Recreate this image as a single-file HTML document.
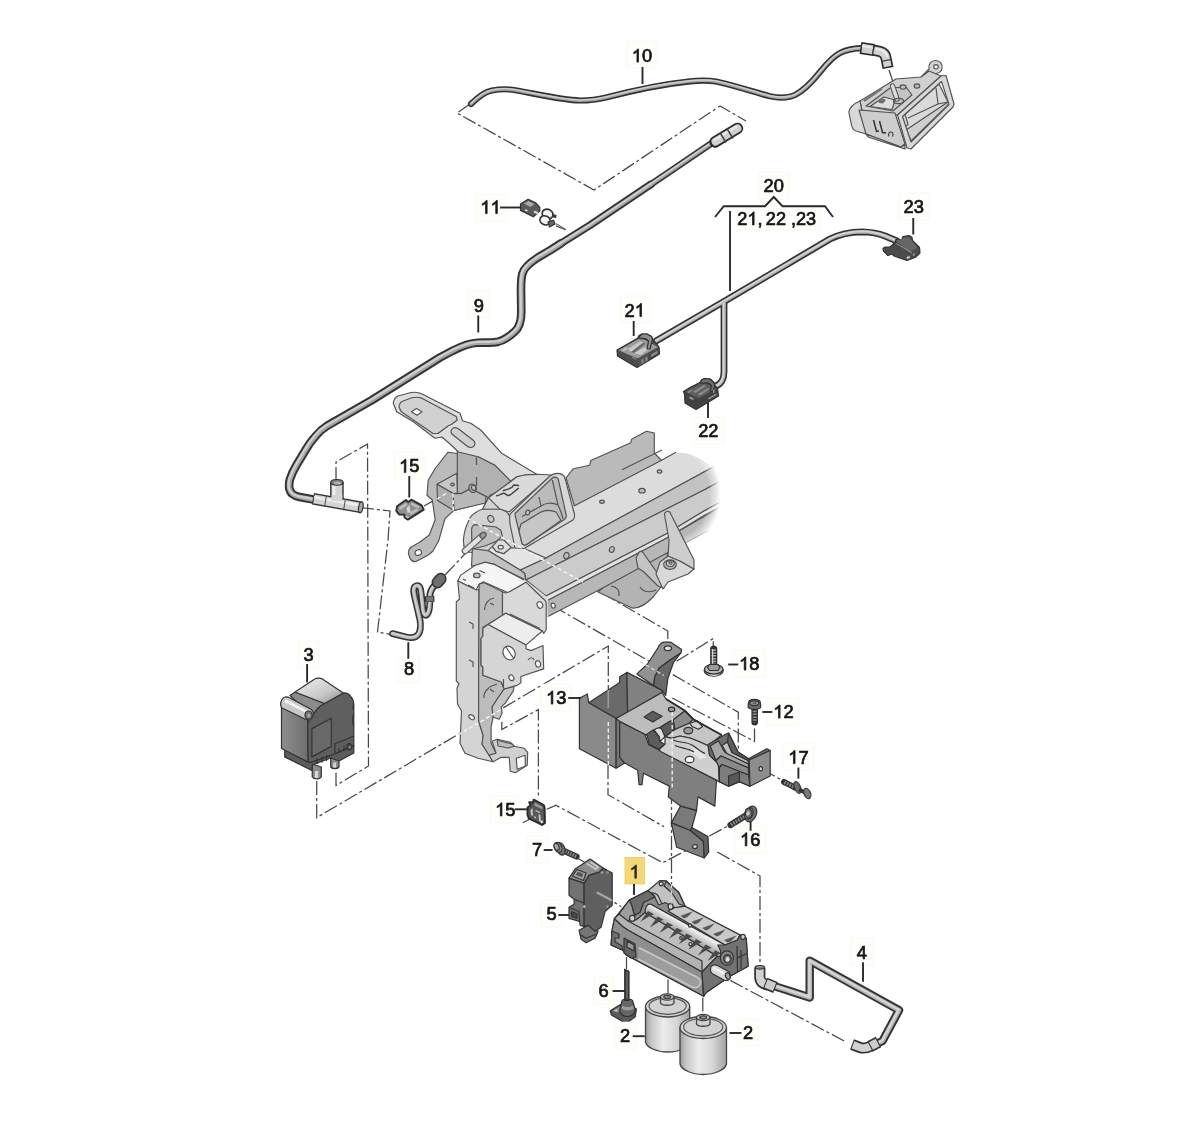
<!DOCTYPE html>
<html><head><meta charset="utf-8"><title>Parts diagram</title>
<style>
html,body{margin:0;padding:0;background:#fff;}
body{width:1200px;height:1146px;overflow:hidden;font-family:"Liberation Sans",sans-serif;}
svg{display:block;}
svg text{font-family:"Liberation Sans",sans-serif;font-size:17.9px;fill:#151515;stroke:#151515;stroke-width:.72px;text-anchor:start;}
.lb{fill:#fefefa;stroke:#f7f6ea;stroke-width:.6;}
.ld{stroke:#2a2a2a;stroke-width:1.9;fill:none;}
.dd{stroke:#484848;stroke-width:1.25;fill:none;stroke-dasharray:14 3 3 3;}
.dw{stroke:#f4f4f4;stroke-width:1.3;fill:none;stroke-dasharray:4 2.5;}
.o{stroke:#525252;stroke-width:1.15;stroke-linejoin:round;}
.od{stroke:#333;stroke-width:1.2;stroke-linejoin:round;}
.n{stroke:none;}
.f{fill:none;}
</style></head><body>
<svg width="1200" height="1146" viewBox="0 0 1200 1146">
<defs>
<filter id="soft" x="-5%" y="-5%" width="110%" height="110%"><feGaussianBlur stdDeviation="0.55"/></filter>
<linearGradient id="cyl" x1="0" x2="1" y1="0" y2="0">
 <stop offset="0" stop-color="#9a9a9a"/><stop offset=".12" stop-color="#c4c4c4"/><stop offset=".4" stop-color="#ececec"/><stop offset=".7" stop-color="#d6d6d6"/><stop offset="1" stop-color="#a2a2a2"/>
</linearGradient>
<linearGradient id="p3l" x1="0" x2="1" y1="0" y2="0">
 <stop offset="0" stop-color="#8d8d8d"/><stop offset="1" stop-color="#6f6f6f"/>
</linearGradient>
<linearGradient id="p3t" x1="0" x2="1" y1="0" y2="1">
 <stop offset="0" stop-color="#f0f0f0"/><stop offset=".6" stop-color="#c8c8c8"/><stop offset="1" stop-color="#8c8c8c"/>
</linearGradient>
<radialGradient id="fade" gradientUnits="userSpaceOnUse" cx="640" cy="505" r="82" gradientTransform="translate(640 505) scale(1 .95) translate(-640 -505)">
 <stop offset="0" stop-color="#fff" stop-opacity="0"/><stop offset=".72" stop-color="#fff" stop-opacity="0"/><stop offset="1" stop-color="#fff" stop-opacity="1"/>
</radialGradient>
<linearGradient id="roll" gradientUnits="userSpaceOnUse" x1="690" y1="922" x2="683" y2="934">
 <stop offset="0" stop-color="#bdbdbd"/><stop offset=".35" stop-color="#f0f0f0"/><stop offset="1" stop-color="#a8a8a8"/>
</linearGradient>

</defs>
<rect width="1200" height="1146" fill="#fff"/>
<g filter="url(#soft)">
<!-- 00_dash.svg -->
<g class="dd">
<path d="M470,104 L457,113 L594,190 L720,106 L746,121"/>
<path d="M556,226 L566,230"/>
<path d="M336,481 L336,462 L367.5,444 L368.5,766 L336,785.5 L336,770"/>
<path d="M360,507.5 L390,511 L388,540 L377.5,632 L391,634.5"/>
<path d="M445,575 L480,538"/>
<path d="M424,506 L447,493"/>
<path d="M316.7,781 L316.7,817.6 L608.3,646 L608.3,708"/>
<path d="M501.8,722 L501.8,729.5 L538.4,709.6 L538.4,798.7"/>
<path d="M553,606 L738.3,712.2 L738.3,751"/>
<path d="M583,582 L667.8,631 L667.8,647.2"/>
<path d="M676.5,661.3 L713.3,638.5 L713.3,647"/>
<path d="M672.2,698 L754.5,741.4 L754.5,727"/>
<path d="M546.7,809.3 L556,805.3 L662.7,862.7 L693.3,846.7"/>
<path d="M709.3,836 L729.3,825.3"/>
<path d="M522.7,822.7 L530.7,818.7"/>
<path d="M608,765 L608,794.7 L664,826.7"/>
<path d="M671.5,790 L671.5,904"/>
<path d="M717.3,852 L760,876 L760,964"/>
<path d="M576,857.3 L585.3,862.7"/>
<path d="M600,893.3 L621.3,906.7"/>
<path d="M730.3,980.4 L844.2,1041"/>
<path d="M668,979.5 L668,996"/>
<path d="M702.8,997.5 L702.8,1014"/>
<path d="M626.5,957 L626.5,969"/>
<path d="M889,70 L894,85"/>
<path d="M762.5,769.5 L782.5,780.5"/>
</g>

<!-- 10_hoses.svg -->
<defs>
<path id="h10" d="M471,104 C478,97 484,92 492,90.5 C500,89 508,89 514,90 C530,92.5 560,100 580,100.5 C590,100.5 598,99.5 606,97.5 C625,92.5 660,84.5 690,81.3 C700,80.3 708,80.3 716,81.5 C735,85.5 755,92.5 770,96.3 C780,98.5 788,98 795,95 C805,90 812,82 820,72 C828,62 834,56 840,53 C846,50 852,48.6 861,48.2"/>
<path id="h9a" d="M712,143 L650,185"/>
<path id="h9b" d="M651,184.3 L590,225.3 L560,244"/>
<path id="h9" d="M561,243.4 L550,250.4 L538,257.5 C531,262 524,268 522.5,273.3 C521,278 521,283 521,290 L521.3,312 C521.3,322 519,328 514.6,331.7 C509,337 503,340.5 498.3,341.7 C492,343 485,342.5 477.5,342.7 C470,343 462,346 452.5,350.8 L440,357.5 L372.1,400 L326.7,426.1 C322,429 318,433 315.4,436.3 C312,440 309,444 306.3,448.8 L296.1,465.8 C293,471 291,476 289.9,479.4 C289,483 289,486 289.3,488.5 C290,491 291,493 292.7,494.2 C295,496 297,496.5 299.5,497 L312,499.3"/>
<path id="w1" d="M656,341 L730,298 L830,239 C840,234 850,232 862,231.8 C872,232 880,234 885,236 L897,241"/>
<path id="w2" d="M724,303 L724,372 C724,380 721,384 716,386"/>
<path id="h4" d="M774,986 L809.7,997.5 L809.7,960.7 L899,1010.2 L882.5,1041 L872,1046"/>
<path id="h8" d="M392.5,633.6 L406,637 C412,638.5 416,638 418.5,634 C421,630 421,626 420,620 L414.5,596 C413,590 413.5,586.5 416.5,585.7 C419.5,585 420.5,588 421,592 L423,610 C424,616 426,616.5 428,613 C430,609 430,604 429.8,598 C429.5,592 431,589 435,585 L440,579.5"/>
</defs>
<g fill="none" stroke-linecap="round" stroke-linejoin="round">
<use href="#h10" stroke="#333" stroke-width="6.2"/><use href="#h10" stroke="#a4a4a4" stroke-width="3"/><use href="#h10" stroke="#cdcdcd" stroke-width="1.4" transform="translate(0 -.6)"/>
<use href="#h9a" stroke="#333" stroke-width="6.9"/><use href="#h9b" stroke="#333" stroke-width="7.8"/><use href="#h9" stroke="#333" stroke-width="8.6"/><use href="#h9a" stroke="#a4a4a4" stroke-width="3.5"/><use href="#h9b" stroke="#a4a4a4" stroke-width="4.2"/><use href="#h9" stroke="#a4a4a4" stroke-width="4.8"/><use href="#h9a" stroke="#cfcfcf" stroke-width="1.6" transform="translate(-.4 -.6)"/><use href="#h9b" stroke="#cfcfcf" stroke-width="1.9" transform="translate(-.4 -.6)"/><use href="#h9" stroke="#cfcfcf" stroke-width="2.2" transform="translate(-.5 -.7)"/>
<use href="#w1" stroke="#333" stroke-width="6.8"/><use href="#w2" stroke="#333" stroke-width="6.8"/>
<use href="#w1" stroke="#b4b4b4" stroke-width="3.6"/><use href="#w2" stroke="#b4b4b4" stroke-width="3.6"/><use href="#w1" stroke="#d4d4d4" stroke-width="1.6" transform="translate(-.3 -.5)"/><use href="#w2" stroke="#d4d4d4" stroke-width="1.6" transform="translate(-.5 0)"/>
<use href="#h4" stroke="#333" stroke-width="8.4"/><use href="#h4" stroke="#b4b4b4" stroke-width="4.6"/><use href="#h4" stroke="#d6d6d6" stroke-width="2.2" transform="translate(-.3 -.6)"/>
<use href="#h8" stroke="#333" stroke-width="6.8"/><use href="#h8" stroke="#b0b0b0" stroke-width="3.8"/><use href="#h8" stroke="#d2d2d2" stroke-width="1.8" transform="translate(-.4 -.4)"/>
</g>

<!-- 20_housing.svg -->
<g>
<!-- loop -->
<path class="o" fill="#d2d2d2" d="M921,77 L929,69 C928,64 931,60.5 935.5,60.5 C940,60.5 943,64 942,68.5 C941.5,71.5 939,73 936,73.5 L932,80 Z"/>
<ellipse class="o" cx="936" cy="66.8" rx="2.2" ry="2.2" fill="#fff"/>
<!-- body top -->
<path class="o" fill="#d0d0d0" d="M860,101 L896,79 L921,77 L929,71 L941,76 L897.5,115 L862,110 Z"/>
<!-- left end cap -->
<path class="o" fill="#d9d9d9" d="M848.8,112 C849.5,108 853,104 860,101 L866,134 L856,131 C853,130 852,128 851.5,125 Z"/>
<!-- front face -->
<path class="o" fill="#cdcdcd" d="M859,110 L895,113 L905,144 L901,147 L866,134 Z"/>
<path class="o" fill="#bdbdbd" d="M866,134 L901,147 L905,144 L905,149 L868,137 Z"/>
<!-- top recess -->
<path class="o" fill="#c4c4c4" d="M866,106 L890,88 L906,87 L912,95 L893,111 Z"/>
<path class="o" fill="#dedede" d="M870,106.5 L884,97 L895,100 L892,109.5 Z"/>
<path class="n" fill="#6f6f6f" d="M878,100.5 L882,98 L886,100 L883,103.5 L879,103 Z"/>
<path d="M864,101 L882,88.5" stroke="#777" stroke-width="2.2"/>
<ellipse class="o" cx="903" cy="87" rx="3" ry="2.2" fill="#bdbdbd"/><ellipse class="o" cx="917" cy="86" rx="2.8" ry="2.1" fill="#bdbdbd"/>
<!-- stem -->
<path d="M892.5,86 L897,99" stroke="#555" stroke-width="5.4" stroke-linecap="round"/>
<path d="M892.5,86 L897,99" stroke="#dcdcdc" stroke-width="3.4" stroke-linecap="round"/>
<ellipse class="o" cx="898.5" cy="101" rx="5" ry="2.6" fill="none"/>
<!-- frame inside -->
<path class="o" fill="#dadada" d="M902,117 L939,84 L949,104 L911,141 Z"/>
<path class="o" fill="#cfcfcf" d="M906,130 L948,102 L949,104 L911,141 Z"/>
<path class="o f" d="M908,118 L938,104 L948,102 M938,104 L936,88"/>
<path class="o" fill="#d6d6d6" d="M901,114 C902,113 904,113 905,114.5 L908,124 C907.5,126 905,126.5 904,125 Z"/>
<!-- frame ring -->
<path class="o" fill="#d8d8d8" fill-rule="evenodd" d="M897.5,115 L941,76 L946,75.5 L954,104 L953,107 L911,149 L907,148 Z M902.5,116.5 L911,142 L949,104.5 L941.5,81.5 Z"/>
<!-- LL text -->
<path d="M873.5,120 L876.5,131.5 L879,131 M879.5,121 L882.5,132.5 L886,133" stroke="#333" stroke-width="1.5" fill="none"/>
<path d="M889,136.5 C888,133.5 889,132 891,132 C893,132 893.5,134 892.5,136.5" stroke="#333" stroke-width="1.1" fill="none"/>
<g transform="translate(0 1)">
<!-- elbow connector on hose 10 -->
<path d="M860.5,47 L874,49" stroke="#2e2e2e" stroke-width="12.2"/>
<path d="M862,47.2 L872.7,48.8" stroke="#cfcfcf" stroke-width="8.8"/>
<path d="M862,45 L872.7,46.6" stroke="#e6e6e6" stroke-width="2.4"/>
<path d="M873,49 L880,50.5 C884,51.5 885.5,54 886,57 L888,67" stroke="#2e2e2e" stroke-width="11.2" fill="none"/>
<path d="M874,49.2 L880,50.5 C884,51.5 885.5,54 886,57 L887.7,65.6" stroke="#d3d3d3" stroke-width="7.8" fill="none"/>
<path d="M875,47.6 L881,49 C885.5,50.3 887,53 887.6,56.5" stroke="#ececec" stroke-width="2" fill="none"/>
<path d="M881.3,60.4 L891.7,58.4" stroke="#444" stroke-width="1.3"/>
</g>
<!-- connector on hose 9 end -->
<path d="M715,142 L737.5,128.4" stroke="#2e2e2e" stroke-width="11.4" stroke-linecap="round"/>
<path d="M715.5,141.7 L737.5,128.4" stroke="#d0d0d0" stroke-width="7.8" stroke-linecap="round"/>
<path d="M714.5,139.8 L736.5,126.5" stroke="#e8e8e8" stroke-width="2.2" stroke-linecap="round"/>
<path d="M720.5,133.5 L726,142.5 M727.5,129.5 L733,138.5" stroke="#444" stroke-width="1.5"/>
</g>

<!-- 30_bracket.svg -->
<defs>
<mask id="beamfade" maskUnits="userSpaceOnUse" x="380" y="380" width="400" height="420">
 <ellipse cx="672" cy="494" rx="49" ry="57" fill="url(#fadem)"/>
 <rect x="380" y="380" width="292" height="420" fill="#fff"/>
</mask>
<radialGradient id="fadem">
 <stop offset="0" stop-color="#fff"/><stop offset=".76" stop-color="#fff"/><stop offset=".9" stop-color="#777"/><stop offset="1" stop-color="#000"/>
</radialGradient>
</defs>
<!-- bottom cylinder under beam -->
<path class="o" fill="#b3b3b3" d="M598,592 L632,608 C638,608.5 645,606 654,596 L664,583 L668,550 L640,555 Z"/>
<path class="o f" d="M611,586 C617,587 620,590 619,596 M640,587 C643,592 650,593 656,590"/>
<g id="beam" mask="url(#beamfade)">
 <!-- back wall -->
 <path class="o" fill="#bababa" d="M566,478 L573.3,468.7 L589.7,465.2 L590.8,460.5 L630.8,442.7 L631.6,439.2 L646.5,431.3 L654.3,433 L654.3,453 L662,461 L575,508 Z"/>
 <path class="o f" d="M622,469.7 L662,450"/>
 <!-- top face -->
 <path class="n" fill="#dcdcdc" d="M574,506 L662,460 L674,453 C690,451 712,460 724,486 L704,472 L546,558 L520.1,569.9 L488,550.6 L520,540 Z"/>
 <path class="o f" d="M574,506 L662,460 L676,452.3 M712,467.6 L704,472 L546,558"/>
 <!-- strip 3 -->
 <path class="o" fill="#c3c3c3" d="M520.1,569.9 L546,558 L704,472 L730,458 L730,476 L704,490 L526,580 L524.7,573.5 Z"/>
 <!-- strip 4 -->
 <path class="o" fill="#cbcbcb" d="M526,580 L704,490 L730,476 L730,497 L704,511 L666,534 L546,596 Z"/>
 <!-- strip 5 -->
 <path class="n" fill="#e3e3e3" d="M546,596 L666,534 L704,511 L730,497 L730,501.5 L704,515.5 L666,538.6 L548.5,600 Z"/>
 <path class="o f" d="M546,596 L666,534 L704,511 L730,497 M548.5,600 L666,538.6 L704,515.5 L730,501.5"/>
 <!-- bottom face -->
 <path class="o" fill="#b7b7b7" d="M548.5,600 L666,538.6 L730,501.5 L730,520 L702,534 L597.1,590.9 L548,616.5 Z"/>
 <!-- holes -->
 <g class="o" fill="#bdbdbd">
  <ellipse cx="602" cy="501.7" rx="2.3" ry="1.6"/><ellipse cx="642" cy="490.7" rx="3.2" ry="2.3"/><ellipse cx="659.5" cy="471.5" rx="2.3" ry="1.6"/>
  <ellipse cx="566.4" cy="555.6" rx="2.6" ry="3.2" transform="rotate(20 566.4 555.6)"/><ellipse cx="611.8" cy="549.5" rx="2.4" ry="3" transform="rotate(20 611.8 549.5)"/>
 </g>
</g>
<!-- right tab bracket -->
<g>
 <path class="o" fill="#c4c4c4" d="M639,552.4 C640,551 642,551 643,552.5 L660,577 L664,588 L658,586 L644,572 L638,568 L636,558 Z"/>
 <path class="o" fill="#d8d8d8" d="M668,556 L680,561 L694,569 L688,574 L668,582 L663,589 L656,574 L660,562 Z"/>
 <path class="o" fill="#cdcdcd" d="M664.4,514 C665,511.5 668.5,510.5 670,512.4 L694,560 L694,569 L680,561 L668,556 L669,540 Z"/>
 <ellipse class="o" cx="670" cy="564.6" rx="6.4" ry="4.7" fill="#b2b2b2"/><ellipse class="o" cx="670.3" cy="563.6" rx="4" ry="2.9" fill="#cfcfcf"/><ellipse class="o" cx="670.5" cy="563" rx="1.6" ry="1.1" fill="#e6e6e6"/>
</g>

<!-- 31_bracket2.svg -->
<g>
<!-- far back plate -->
<path class="o" fill="#bbbbbb" d="M448,452.2 L435.2,468.5 L428.2,480.2 L427,495.3 L432.3,500 L435.2,519.8 L429.3,535 L420,542 L411.7,546.7 C408.5,549 408,553 409.2,556 C410.5,560.5 413,562 416,561.5 L428.3,555 L432.8,551.3 L438.7,540.8 L445,518.7 L453.8,510.5 L483.6,503 L495,497 L470,455 Z"/>
<ellipse class="o" cx="418.3" cy="552.6" rx="3.3" ry="2.7" fill="#fff" transform="rotate(-20 418.3 552.6)"/>
<!-- vertical plate under arm -->
<path class="o" fill="#b1b1b1" d="M457.3,450 L457.3,493 L461.4,493.6 L469,489.5 L474.8,490.7 L488.8,497.7 L490,495.3 L498.2,491.8 L511,481.3 L501.7,468.5 L485.3,460.3 L476,455 L463.2,449 Z"/>
<path class="o" fill="#b9b9b9" d="M453.3,493.6 L461.4,493.6 L469,489.5 L474.8,490.7 L486,496.5 L485.3,503 L453.8,510.5 Z"/>
<path class="o f" d="M476.5,457 V465 M476.5,477 V486"/>
<!-- L bracket -->
<path class="o" fill="#c7c7c7" d="M437,484.3 L456.8,473.2 L457.3,493 L453.3,493.6 Z"/>
<path class="o" fill="#afafaf" d="M437,484.3 L453.3,493.6 L453.8,510.5 L437.5,500.5 Z"/>
<ellipse class="o" cx="452.5" cy="484.5" rx="1.8" ry="1.4" fill="#bbb"/>
<!-- nut -->
<ellipse class="o" cx="472.6" cy="488.3" rx="3.6" ry="4.4" fill="#a5a5a5" transform="rotate(-25 472.6 488.3)"/><ellipse class="o" cx="473.6" cy="487.8" rx="2" ry="2.6" fill="#c4c4c4" transform="rotate(-25 473.6 487.8)"/>
<!-- arm -->
<path class="o" fill="#dddddd" d="M393.3,403.3 C393.5,400 395,397.5 398,396 L409,393 C413,392 418,392 422,394 L460,413.3 L462.5,420.8 L470.8,423.3 L480.7,430 L501.7,453.3 L536.7,474.3 L525,475 L516.8,476.7 L511,481.3 L494.7,465 L478.3,456.8 L458.4,452 L450,444 L442,437 L435,438.3 L413.3,421.7 L396.7,411.7 Z"/>
<path class="o" fill="#d1d1d1" d="M399,407 C399.5,403.5 400.5,402 402.5,401.3 L411.8,397.8 C415,397 419,397 422.3,398.4 L456.2,416.5 L457.3,420 L452,424 L448,426 L438,433.5 L433,433.5 L401.3,411.8 Z"/>
<path class="o" fill="#fff" d="M411.5,411.8 L416.5,408.5 L422,411.8 L417,415.2 Z"/>
<path class="o" fill="#cfcfcf" d="M452,429 C453.5,427 456,427.5 458,428.5 L473,440 C475.5,442 475.5,445 473.5,446.5 C471.5,448 469,447.5 467,446 L452.5,434.5 C451,433 450.8,430.5 452,429 Z"/>
<!-- housing body -->
<path class="o" fill="#dadada" d="M488.4,497.7 L511,481.3 L516.8,476.7 L525,475 L536.7,474.3 L551.8,475 L509.2,512 L499.9,509.2 L482.6,509.2 Z"/>
<path class="o" fill="#d3d3d3" d="M463.4,540 C464,533 465.5,527 468.2,521.7 C470,517 472,514.5 475,513 C478,510.5 480,509.5 482.6,509.2 L488.4,497.7 L499.9,509.2 C503,510 506,511 507.6,513 C509.5,515 510.5,518 511.4,521.7 L517.2,543.8 L521,552 L492.2,552 L472,552.5 L464.4,551.4 Z"/>
<path class="o f" d="M482.6,509.2 L499.9,509.2"/>
<path d="M496.7,495.8 C499,495.8 501,494 503.3,493.3 C505.5,492.8 506.5,496 508.8,495.5 C512,494.5 515,490.5 518.3,488.3 M503.3,490.5 C506,490.3 509,488.8 511.7,487.5 C513,486.8 512.5,485.2 514,485 L518.5,485.6" fill="none" stroke="#444" stroke-width="1.5" stroke-linecap="round"/>
<ellipse class="o" cx="490.8" cy="518.8" rx="2.9" ry="3.5" fill="#c9c9c9" transform="rotate(-25 490.8 518.8)"/>
<!-- recess -->
<path class="o" fill="#bebebe" d="M471.6,530 C471.6,527 473,525 475,524.6 L496,527 L500.9,530.3 L502.3,536 L497,541 L485,546 L472,549 Z"/>
<!-- tube -->
<path d="M465,551 L482,536" stroke="#555" stroke-width="6.6" stroke-linecap="round" fill="none"/>
<path d="M465,551 L482,536" stroke="#e2e2e2" stroke-width="4.4" stroke-linecap="round" fill="none"/>
<ellipse class="o" cx="483" cy="535.3" rx="2.6" ry="3.4" fill="#999" transform="rotate(40 483 535.3)"/>
<!-- small tab with hole -->
<path class="o" fill="#dcdcdc" d="M492.2,546.6 L498,540 L503.8,540 L511.4,547.6 L503.8,553.8 L496,551.4 Z"/>
<ellipse class="o" cx="500.7" cy="547.3" rx="2.6" ry="1.9" fill="#f2f2f2"/>
<!-- frame -->
<path class="o" fill="#d8d8d8" d="M510,514 L550,476 C553,473.5 557,473 560,473.6 C563,474.5 564.5,476 565,478 L574.4,514 C574.8,517 574,519 573,520 L524,548.5 C521,550 517.5,550 515,548 L510,524 C509.5,520 509.5,517 510,514 Z"/>
<path class="o" fill="#bbbbbb" d="M515,513.5 L552.3,478 C554,476.5 557,477 558.2,479 L566.3,515.3 C566.5,517.5 564,520 561.7,521.2 L526.7,544.5 C524.5,545.5 522.5,545 522,543.3 L516.2,520 C515.5,517 515,515.5 515,513.5 Z"/>
<path class="o f" d="M552.3,480 L558,505 L561,512 L563,519 M558,505 C552,502 545,503 541,506 L522,516.5 M541,506 L539,497"/>
<path class="o" fill="#c6c6c6" d="M521,524 L541,512 C545,510 551,510 556,512 L561,520.5 L526.7,544.5 C524.5,545.5 522.5,545 522,543.3 L519,531 Z"/>
<ellipse class="o" cx="527.7" cy="512.5" rx="1.9" ry="2.5" fill="#c9c9c9" transform="rotate(15 527.7 512.5)"/>
<!-- beam front-left: light plate + front face + white flap -->
<path class="o" fill="#e4e4e4" d="M488,550.6 L492.2,546.6 L496,551.4 L503.8,553.8 L511.4,547.6 L515,548 L524,548.5 L546,558 L520.1,569.9 Z"/>
<path class="o" fill="#c2c2c2" d="M472.4,548.8 L488,550.6 L520.1,569.9 L524.7,573.5 L525.6,580 L494.4,564.4 L485.3,562.5 L475.2,565.3 L471.5,566.2 Z"/>
<path class="o" fill="#f5f5f5" d="M475.2,565.3 L485.3,562.1 L494.4,564.4 L527.5,581.8 L508.2,592.8 L483.4,581.8 L478.9,584.5 L476.1,590 L457.8,580.9 L460.5,575.4 Z"/>
<path class="o f" d="M463,579 L466,580.5 M468,585 L474,588"/>
</g>

<!-- 32_vbracket.svg -->
<g>
<path class="n" fill="#d9d9d9" d="M524,579 L547.5,597.5 L548.6,601 L548.6,617 L540,612 L524,592 Z"/>
<!-- left plate -->
<path class="o" fill="#d4d4d4" d="M457.8,581 L476.3,590 L479,589.5 L478.7,665 L478.6,721.2 L483.1,735.2 L482.1,744.2 L489.1,755.3 L493.1,761.8 L478,758.3 L465,753.3 L460,743.2 L461.5,711 L457.5,704 L457,688 L459,683.6 L456.3,681 L456.3,601.8 L459.5,599.3 Z"/>
<!-- side recessed face -->
<path class="o" fill="#bcbcbc" d="M479.1,584.1 L484.2,582.8 L502.5,591.7 L502.5,615.8 L482.9,627.2 L482.9,636 L481,638.5 L481,665.1 L482.9,667 L482.9,675.3 L501.2,682 L504.2,689 L497.2,699 L492.1,707 L493.1,717.2 L491.1,727.2 L491.1,743.2 L496.1,753.3 L489.1,755.3 L482.1,744.2 L483.1,735.2 L478.6,721.2 L478.7,665 Z"/>
<!-- lower foot -->
<path class="o" fill="#d0d0d0" d="M493.1,761.8 L489.1,755.3 L496.1,753.3 L492.1,741.2 L497.2,739.2 L510.2,742.2 L514.2,746.2 L524.2,748.3 L527.7,752.3 L527.2,765.3 L515.2,772.8 L510.2,771.3 L509.2,757.3 L501.2,757.3 Z"/>
<path class="o" fill="#bdbdbd" d="M497.2,739.2 L500,741 L512,744 L514.2,746.2 L508,748 L498,746 Z"/>
<path class="o" fill="#fff" d="M516.2,758.3 L525.2,755.3 L525.2,766.3 L517.2,769.3 Z"/>
<!-- lower arm front face -->
<path class="o" fill="#c6c6c6" d="M493.1,717.2 L499.2,719.2 L502.2,713.1 L501.2,707.1 L505.2,703.1 L513.2,691.1 L514.2,686.1 L504.2,689 L497.2,699 L492.1,707 Z"/>
<!-- upper front plate -->
<path class="o" fill="#d9d9d9" d="M502.5,591.7 L505.7,593 L509.5,591.7 L526,582.2 L542.4,598 C545,600 546.2,601.5 546.2,603.1 L546.2,629.7 L543.7,633.5 L542.4,631 L505.7,613.2 L502.5,615.8 Z"/>
<!-- step top -->
<path class="o" fill="#ededed" d="M488,624.6 L505.7,613.2 L542.4,631 L526,644.9 Z"/>
<path class="o f" d="M510,614 L540,628.5"/>
<!-- lower front plate -->
<path class="o" fill="#d5d5d5" d="M482.9,628.4 L488,624.6 L526,644.9 L526,648.7 L531,650.6 L543,645.5 L543.7,668.9 L520.9,676.5 L520.9,682.8 L517.1,685.4 L514.2,686.1 L504.2,689 L501.2,682 L482.9,675.3 L482.9,667 L481,665.1 L481,638.5 L482.9,636 Z"/>
<!-- holes -->
<ellipse class="o" cx="509.1" cy="653.1" rx="5.8" ry="7.2" fill="#fff" transform="rotate(-30 509.1 653.1)"/>
<path class="o f" d="M506,647 C508,650 511,655 513.5,658"/>
<ellipse class="o" cx="539.9" cy="605" rx="2.7" ry="3.3" fill="#fff" transform="rotate(-25 539.9 605)"/>
<ellipse class="o" cx="538" cy="663.9" rx="2.5" ry="3.2" fill="#fff" transform="rotate(-15 538 663.9)"/>
<ellipse class="o" cx="511.4" cy="677.8" rx="2.3" ry="3" fill="#fff" transform="rotate(-35 511.4 677.8)"/>
<ellipse class="o" cx="471.6" cy="717.2" rx="3.2" ry="2" fill="#fff" transform="rotate(35 471.6 717.2)"/>
<ellipse class="o" cx="476.8" cy="575.4" rx="3.3" ry="2.3" fill="#c2c2c2"/><path class="o f" d="M479.5,570.5 L485,573"/>
<ellipse class="o" cx="553.2" cy="605.6" rx="2" ry="2.6" fill="#f0f0f0" transform="rotate(-20 553.2 605.6)"/>
<!-- bend marks -->
<g class="o f">
<path d="M494,598 C489,599 485,603 484.5,610 M490,603 L494,605"/>
<path d="M469,622 L473,624 V629"/><path d="M469,660 L473,662 V667"/>
<path d="M528,660 C530,657 533,657 534,660"/>
<path d="M497,684 C489,686 483,692 484,698 M490,689 L494,692"/>
<path d="M503.5,679 V688"/>
</g>
</g>

<!-- 40_part3.svg -->
<g>
<!-- pins -->
<path class="od" fill="#8a8a8a" d="M312.4,764 L321.3,767 L321.3,777 C319.5,779.6 314,779.6 312.2,777 Z"/>
<path class="od" fill="#8a8a8a" d="M330.7,757 L339,760 L339,767 C337.2,769.2 332.5,769.2 330.7,767 Z"/>
<path class="n" fill="#d8d8d8" d="M315,771 h3.2 v7 h-3.2z M333.3,762.5 h2.8 v5 h-2.8z"/>
<!-- base -->
<path class="od" fill="#5c5c5c" d="M284.7,749 L284.7,756.9 L311.9,770.5 L312.4,765 L330.7,758 L339,761 L353.8,753 L353.8,745.4 L334.9,753.8 L308.2,762.1 Z"/>
<!-- left face -->
<path class="od" fill="url(#p3l)" d="M281.5,704 L307.7,717 L308.2,762.1 L281.5,748.5 Z"/>
<!-- right face -->
<path class="od" fill="#5f5f5f" d="M307.7,724.5 C309,718 311.5,714.5 315,711.9 C318,707.5 321,705 324.5,703.5 L343.3,693 C346,692.5 349,694 350.6,696.2 C352.5,698 353.5,700.5 353.8,703.5 L353.8,745.4 L334.9,753.8 L311.9,762.1 L308.2,762.1 Z"/>
<path class="n" fill="#696969" d="M311.9,728.6 L331.3,718.2 L331.3,746.4 L311.9,756.9 Z"/>
<path class="od f" d="M311.9,728.6 L331.3,718.2 L331.3,746.4 L311.9,756.9 Z" stroke-width=".7"/>
<!-- band -->
<path class="od" fill="#8b8b8b" d="M290,695.5 L295.1,692 L324.5,703.5 C321,705 318,707.5 315,711.9 L311,716 Z"/>
<!-- dome top -->
<path class="od" fill="url(#p3t)" d="M295.1,692 L314,679.4 C316.5,678 320,678 322.4,678.9 L343.3,693 L324.5,703.5 Z"/>
<!-- roll -->
<path class="od" fill="#c9c9c9" d="M282,699.5 C283.5,697 286.5,696.3 289,697.5 L311.5,709.5 C313.8,711.5 314,715.5 311.8,718.2 C310,720 307.5,720.3 305.5,719.3 L281.6,707.8 C280.4,705.5 280.5,702 282,699.5 Z"/>
<path class="n" fill="#f4f4f4" d="M285.5,699.3 L309,711.5 L308,714 L284.5,702 Z"/>
<ellipse class="od" cx="308.6" cy="715.2" rx="3.6" ry="4.2" fill="#767676"/>
<ellipse class="n" cx="308.9" cy="715.6" rx="1.6" ry="1.9" fill="#a5a5a5"/>
<!-- small details right -->
<path class="od f" d="M353.8,705 C352.5,706 352.5,709 353.8,710 M353.8,714 C352.3,716 352.3,724 353.8,726" stroke-width=".9"/>
<path class="od f" d="M334.9,753.8 L334.9,744 L353.8,736" stroke-width=".8"/>
<path class="od f" d="M317,758 v6 M322,756.5 v6 M326.5,755 v6 M339,748 v5 M344,745.5 v5.5" stroke-width=".9"/>
<ellipse class="od" cx="349.3" cy="746.8" rx="2.6" ry="3.2" fill="#4e4e4e"/>
<ellipse class="n" cx="349.8" cy="747.2" rx="1" ry="1.3" fill="#8a8a8a"/>
</g>

<!-- 50_box13.svg -->
<g>
<!-- top strap -->
<path class="od" fill="#929292" d="M636.9,673.9 L647.7,663.8 L657.8,648 C659.5,644.5 661.5,642.8 663.6,642.2 L670.8,642.2 L681.6,649.4 L680.8,653 L670.8,659.5 L659.2,668.1 L654.9,676.7 L653.5,685.4 Z"/>
<path class="od" fill="#686868" d="M654.9,676.7 L659.2,668.1 L670.8,659.5 L680.8,653 L673.6,662.3 L667.9,678.2 L665.7,695.5 L662.1,690.4 L653.5,685.4 Z"/>
<ellipse class="od" cx="667.9" cy="648.2" rx="3.6" ry="2.4" fill="#e0e0e0"/>
<!-- interior walls -->
<path class="od" fill="#6b6b6b" d="M588.7,702.7 L619.7,682.5 L619.7,676.7 L626.9,672.4 L627.6,712.2 L616.1,718.5 Z"/>
<path class="od" fill="#828282" d="M626.9,672.4 L662.1,690.4 L662.1,692.6 L627.6,712.2 Z"/>
<!-- left front face -->
<path class="od" fill="#8a8a8a" d="M579.4,698.3 L587.3,694 L588.7,702.7 L616.1,718.5 L616.1,768.2 L579.4,748.7 Z"/>
<!-- corner post -->
<path class="od" fill="#767676" d="M616.1,718.5 L619.7,721.4 L619.7,757.4 L624.7,763.1 L616.1,768.2 Z"/>
<!-- long front face -->
<path class="od" fill="#7f7f7f" d="M619.7,721.4 L644.9,734.3 L648.5,744.4 L659.2,750.2 L661.4,751.1 L716.4,780.1 L716.4,781.6 L714.8,806.1 L698,796.9 L696.5,810.7 L680.5,806.1 L668.3,796.9 L669.3,786.1 L643.4,773.2 L642,784.7 L639.1,784.7 L637.7,770.3 L624.7,763.1 L619.7,757.4 Z"/>
<!-- top platform -->
<path class="od" fill="#bcbcbc" d="M616.1,718.5 L662.1,692.6 L666,699 L685,710.8 L673,720 L669.2,721.7 L660,727.5 L654.2,730 L648,735.5 L644.9,734.3 L619.7,721.4 Z"/>
<path class="od" fill="#5c5c5c" d="M644.1,717 L652.8,711.3 L662.1,716.3 L652.8,722.1 Z"/>
<ellipse class="od" cx="671.6" cy="709.4" rx="3.2" ry="2.2" fill="#9c9c9c"/>
<!-- dark slope -->
<path class="od" fill="#8a8a8a" d="M685,710.8 L693.3,719.2 L689.2,723.3 L675,729.5 L673,720 Z"/>
<!-- dark gap behind roll -->
<path class="od" fill="#5a5a5a" d="M660,727.5 L669.2,721.7 L673,720 L675,729.5 L665,736.7 Z"/>
<!-- saddle notch -->
<path class="od" fill="#5c5c5c" d="M646.7,734.2 L653.3,730 L659.2,736.7 L660,741.7 L665,744.2 L659.2,749.2 L649.2,744.2 Z"/>
<!-- roll -->
<path class="od" fill="#dedede" d="M654.2,730 C656,728 659.5,727.3 661.5,728.8 L665,736.7 L660,741.7 L659.2,736.7 Z"/>
<!-- upper floor -->
<path class="od" fill="#c5c5c5" d="M675,729.5 L689.2,723.3 L693.3,719.2 L721.7,735 L708.3,745.8 L700,742 L690,738 L680,736 L671.7,738.3 L665,736.7 Z"/>
<path class="od" fill="#d3d3d3" d="M690,723.3 L697.5,720.8 L702.5,726.7 L698.3,729.2 L692,726.5 Z"/>
<ellipse class="od" cx="688.3" cy="730.6" rx="4.5" ry="3.3" fill="#9a9a9a"/>
<!-- lower floor -->
<path class="od" fill="#cfcfcf" d="M659.2,749.2 L665,744.2 L665,736.7 L671.7,738.3 L680,736 L690,738 L700,742 L708.3,745.8 L709.5,755 L718.5,764 L719.3,782 L716.4,780.1 L660.5,751.5 Z"/>
<path class="n" fill="#e6e6e6" d="M691,749 C697,748 703,752 706,757.5 L700,759.5 C697,755.5 694,753.5 690.5,753 Z"/>
<path class="od f" d="M673,740 C679,743 686,741.5 692,745 C697,748 701,752 705,753.5 M675,745.5 C681,748.5 688,748 694,752"/>
<ellipse class="od" cx="689.6" cy="759.5" rx="4.4" ry="3.2" fill="#f8f8f8"/>
<path d="M666,699 L685,710.8 L693.3,719.2 L721.7,735" fill="none" stroke="#2e2e2e" stroke-width="1.8"/>
<!-- right arm -->
<path class="od" fill="#6d6d6d" d="M708,744.5 L726,734 L728.6,733 L738,752 L748.5,758.7 L750,760.3 L750,786.2 L739.3,781.6 L728.6,786.2 L719.4,781.6 L718.5,764 L709.5,755 Z"/>
<path class="od" fill="#a6a6a6" d="M710.2,746 L718.5,740.7 L724.5,752 L748.5,764 L748.5,768 L721,756 L716,760.5 Z"/>
<path class="od" fill="#8a8a8a" d="M716,760.5 L721,756 L748.5,768 L748.5,775 L722,764.5 L719,767.5 Z"/>
<path class="od" fill="#c2c2c2" d="M722,745.5 L727.5,742 L732,752.5 L748,760.5 L748.5,764 L727,753.5 Z"/>
<path class="od" fill="#5e5e5e" d="M727.5,742 L728.6,733 L738,752 L748.5,758.7 L748,760.5 L732,752.5 Z"/>
<path class="od" fill="#7d7d7d" d="M719.4,768 L722,764.5 L748.5,775 L750,786.2 L739.3,781.6 L728.6,786.2 L719.4,781.6 Z"/>
<path class="od" fill="#595959" d="M728.6,776 L739.3,772 L739.3,781.6 L728.6,786.2 Z"/>
<!-- end plate -->
<path class="od" fill="#6c6c6c" d="M748.5,758.7 L766.8,748.8 L770.2,750.5 L750,760.3 Z"/>
<path class="od" fill="#8d8d8d" d="M749.2,760 L770.2,750.5 L770.2,776 L750,786.2 Z"/>
<ellipse class="od" cx="760.7" cy="768.7" rx="1.7" ry="2.1" fill="#e6e6e6"/>
<!-- lower tab -->
<path class="od" fill="#7a7a7a" d="M680.5,806.1 L671.3,822.9 L690.4,830.5 L691.9,827.5 L696.5,810.7 Z"/>
<path class="od" fill="#7e7e7e" d="M671.3,822.9 L676.7,847.3 L704.2,858 L703.4,841.2 L690.4,830.5 Z"/>
<path class="od" fill="#606060" d="M704.2,858 L708.7,851.9 L708,836.6 L691.9,827.5 L690.4,830.5 L703.4,841.2 Z"/>
<ellipse class="od" cx="695" cy="846.6" rx="2.3" ry="2" fill="#e0e0e0"/>
<!-- white dashes inside -->
<path class="dw" d="M608.3,722 V765"/><path class="dw" d="M672.2,712 V790"/>
<path d="M608.3,690 V708" stroke="#9a9a9a" stroke-width="1.6"/>
</g>

<!-- 60_part1.svg -->
<g>
<!-- body silhouette -->
<path class="od" fill="#8c8c8c" d="M614.4,918.7 L629.4,900 L648.1,890.6 L660,880.6 L666.2,881.2 L678.7,892.5 L685,906.2 L740,935 L746.2,938.1 L748.1,966.2 L730,976.2 L706.2,992.5 L703.7,996.2 L626.2,955 L622.5,950 L611.2,945 L612,931 Z"/>
<!-- near slope -->
<path class="od" fill="#bdbdbd" d="M625.5,919.5 L636.2,920 L645,912.5 L717.5,956.2 L702,972 Z"/>
<!-- far ribs -->
<path class="od" fill="#c9c9c9" d="M675,907.5 L685,906.2 L740,935 L737.5,940 L725,945 L668,911 Z"/>
<g class="n" fill="#585858">
<path d="M680.5,915.8 L693.0,911.2 L687.5,917.0 L684.0,918.4 Z"/>
<path d="M691.4,921.8 L703.9,917.2 L698.4,923.0 L694.9,924.4 Z"/>
<path d="M702.3,927.9 L714.8,923.3 L709.3,929.1 L705.8,930.5 Z"/>
<path d="M713.2,933.9 L725.7,929.3 L720.2,935.1 L716.7,936.5 Z"/>
<path d="M724.1,940.0 L736.6,935.4 L731.1,941.2 L727.6,942.6 Z"/>
</g>
<!-- top-back light block -->
<path class="od" fill="#c2c2c2" d="M648.1,890.6 L660,880.6 L666.2,881.2 L678.7,892.5 L685,906.2 L675,907.5 L665,902.5 L658.7,905 L653.7,895 Z"/>
<path class="od" fill="#9a9a9a" d="M666.2,881.2 L678.7,892.5 L685,906.2 L679,904 L672,893 L664,886 Z"/>
<path class="od f" d="M651,893 C655,892 659,895 660,900 L662,904"/>
<!-- left dark block -->
<path class="od" fill="#6c6c6c" d="M629.4,900 L648.1,890.6 L655,896.9 L643.7,902.5 L640,912.5 L634.4,915.6 L631.9,906.2 Z"/>
<path class="od" fill="#9c9c9c" d="M629.4,900 L631.9,906.2 L634.4,915.6 L628,921 L621.5,919 L619,914 Z"/>
<!-- roller -->
<path class="od" fill="url(#roll)" d="M645.5,908.5 C646.5,905 649,903.8 651.2,904.4 L725,945 C726.5,947 726.5,951 724,954.5 C722,957 719.5,957 717.5,956.2 L645,912.5 Z"/>
<!-- fins -->
<g class="n" fill="#484848">
<path d="M648.0,911.0 L640.3,921.8 L650.7,915.4 L654.1,914.2 Z"/>
<path d="M657.6,916.6 L649.9,927.4 L660.3,921.0 L663.7,919.8 Z"/>
<path d="M667.2,922.2 L659.5,933.0 L669.9,926.6 L673.3,925.4 Z"/>
<path d="M676.8,927.8 L669.1,938.6 L679.5,932.2 L682.9,931.0 Z"/>
<path d="M686.4,933.4 L678.7,944.2 L689.1,937.8 L692.5,936.6 Z"/>
<path d="M696.0,939.0 L688.3,949.8 L698.7,943.4 L702.1,942.2 Z"/>
<path d="M705.6,944.6 L697.9,955.4 L708.3,949.0 L711.7,947.8 Z"/>
<path d="M715.2,950.2 L707.5,961.0 L717.9,954.6 L721.3,953.4 Z"/>
</g>
<!-- top-left rim -->
<path class="od" fill="#b3b3b3" d="M614.4,918.7 L619,914 L628,921 L702,961 L702,972 L626.9,929.5 L622,926 Z"/>
<!-- front face -->
<path class="od" fill="#8e8e8e" d="M614.4,918.7 L622,926 L626.9,929.5 L702,972 L703.7,996.2 L626.2,955 L622.5,950 L611.2,945 L612,931 Z"/>
<!-- stadium emboss -->
<path d="M638.7,947.5 L697.5,977.5 C701,979.5 701.5,983.5 699,986 C697,988 694,988 691,986.5 L638,959" fill="#9d9d9d" stroke="#c9c9c9" stroke-width="1.5"/>
<!-- left clip -->
<path class="od" fill="#6f6f6f" d="M612,931 L619,934 L619,938 L615,938 L615,942 L622,946 L622.5,950 L611.2,945 Z"/>
<path class="od" fill="#646464" d="M624,938 L635,944 L636,957 L631,958 L624,953 Z"/>
<path class="od" fill="#9a9a9a" d="M627,941 L634,945 L634,951 L627,947 Z"/>
<!-- right end face -->
<path class="od" fill="#727272" d="M717.6,945 C722,952 722,958 717.5,956.2 L702,972 L703.7,996.2 L706.2,992.5 L730,976.2 L748.1,966.2 L746.2,938.1 L740,935 L737.5,940 L725,945 Z"/>
<ellipse class="od" cx="726.9" cy="958" rx="6.6" ry="7.2" fill="#858585"/>
<ellipse class="od" cx="727.4" cy="958.8" rx="3.8" ry="4.2" fill="#6a6a6a"/>
<ellipse class="n" cx="727.6" cy="959.4" rx="2" ry="2.3" fill="#dedede"/>
<path class="od f" d="M737,946 L737.5,972 M737.3,958 L746.5,953.5 M741,950 L741,969" stroke-width=".9"/>
<!-- bolts on top -->
<g class="od" fill="#d4d4d4">
<ellipse cx="632.3" cy="918.3" rx="2.7" ry="3"/><ellipse cx="670.6" cy="906.5" rx="2.5" ry="2.8"/><ellipse cx="743" cy="936.8" rx="2.3" ry="2.5"/><ellipse cx="661.2" cy="883.8" rx="2" ry="2"/>
<ellipse cx="690" cy="925.5" rx="1.6" ry="1.7"/><ellipse cx="690.5" cy="944.2" rx="1.6" ry="1.7"/><ellipse cx="681" cy="938" rx="1.3" ry="1.4"/>
</g>
<!-- small cylinder -->
<path class="od" fill="#d9d9d9" d="M711.5,966 C713,964.5 716,964.5 717.5,965.5 L728.5,971.5 C730.5,973 731,976.5 729.5,979 C728,981 726,981 724,980 L712,973.5 C710,972 710,968 711.5,966 Z"/>
<path class="n" fill="#f2f2f2" d="M713.5,966.5 L727,974 L726,976 L712.5,968.7 Z"/>
<ellipse class="od" cx="727.8" cy="976" rx="2.3" ry="3.4" fill="#9f9f9f" transform="rotate(-20 727.8 976)"/>
</g>

<!-- 61_lower.svg -->
<g>
<!-- part 5 -->
<path class="od" fill="#747474" d="M579.1,930.3 L581.1,939.3 L586.1,942.8 L595.1,938.3 L598.1,931.3 L590,924 Z"/>
<path class="od f" d="M580,934.5 L586,938.2 L596.5,934" stroke-width=".8"/>
<path class="od" fill="#727272" d="M569,878.1 L584.1,883.1 L584.1,926.3 L580.1,925.3 L579.6,921.3 L569,918.3 L569,907.2 L574.1,904.2 L574.1,899.2 L569,895.2 Z"/>
<path class="od" fill="#5f5f5f" d="M584.1,883.1 L589.1,875.1 L599.1,872.1 L603.1,868.1 L612.2,873.1 L612.2,905.2 L605.2,911.2 L601.1,927.3 L595.1,931.3 L588.1,925.3 L584.1,926.3 Z"/>
<path class="od" fill="#8c8c8c" d="M569,878.1 L575.1,869.1 L590.1,859.1 L603.1,868.1 L599.1,872.1 L589.1,875.1 L584.1,883.1 Z"/>
<path class="od" fill="#a8a8a8" d="M572.5,876 L577,869.5 L586,873 L583.5,880.5 Z"/>
<path class="n" fill="#5a5a5a" d="M575.5,875 L578,871.5 L583.5,873.8 L582,877.5 Z"/>
<path d="M586.5,863.5 L596,869.2 L598,867 L590.5,862" stroke="#c9c9c9" stroke-width="1.8" fill="none"/>
<path class="od f" d="M569,907.2 L579,911.5 L579.6,921.3 M574.1,899.2 L584.1,903" stroke-width=".9"/>
<path class="od" fill="#4c4c4c" d="M571.5,911.5 L577,913.8 L577,918.5 L571.5,916.2 Z"/>
<ellipse class="n" cx="602" cy="872.5" rx="1.3" ry="1.5" fill="#9a9a9a"/><ellipse class="n" cx="607.5" cy="872.5" rx="1.6" ry="1.8" fill="#858585"/><ellipse class="n" cx="607.3" cy="906.5" rx="1.3" ry="1.5" fill="#8d8d8d"/><ellipse class="n" cx="584.3" cy="906.6" rx="1.3" ry="1.5" fill="#b5b5b5"/>
<path d="M597.5,892.8 L611,900" stroke="#a5a5a5" stroke-width="2.4" stroke-linecap="round"/>
<!-- screw 7 -->
<path d="M563,850.5 L576.5,856.5" stroke="#333" stroke-width="6.2" stroke-linecap="round"/>
<path d="M563,850.5 L576.5,856.5" stroke="#8f8f8f" stroke-width="3.6" stroke-dasharray="1.4 1.2"/>
<ellipse class="od" cx="560.8" cy="848.8" rx="4" ry="6.6" fill="#707070" transform="rotate(-22 560.8 848.8)"/>
<ellipse class="od" cx="558" cy="847.3" rx="3.6" ry="5.2" fill="#8c8c8c" transform="rotate(-22 558 847.3)"/>
<ellipse class="od" cx="556.6" cy="846.8" rx="2.4" ry="3.6" fill="#a9a9a9" transform="rotate(-22 556.6 846.8)"/>
<!-- part 6 -->
<path class="od" fill="#5a5a5a" d="M610.2,1010.7 L620.5,1004.6 L636.4,1008.9 L635.2,1016.8 L626,1023.5 L611.4,1015 Z" stroke-width="1.5"/>
<path class="n" fill="#8c8c8c" d="M612.5,1010.8 L620.5,1006 L625,1007.3 L617,1012.5 Z"/>
<path class="n" fill="#c4c4c4" d="M613.5,1011 L617,1009 L617.5,1011.5 Z"/>
<path class="od" fill="#666" d="M621.8,1001.5 C621.8,999.8 624,999 627.3,999 C630.6,999 632.8,999.8 632.8,1001.5 L635.5,1010.5 C634,1014.5 631,1016.5 627.5,1016.5 C624,1016.5 620.8,1014.5 619.6,1010.5 Z" stroke-width="1.5"/>
<path class="n" fill="#9a9a9a" d="M622.5,1005.5 C625,1007.5 630,1007.5 633,1005.5 L633.8,1008.5 C630,1011 625,1011 621.6,1008.5 Z"/>
<path d="M624.6,969 L629.1,971.2 L629.1,1000.5 L624.6,1000.5 Z" fill="#3c3c3c" stroke="#2a2a2a" stroke-width=".9"/>
<path d="M627,972 V999" stroke="#7a7a7a" stroke-width="1.1"/>
<!-- cylinders 2 -->
<g>
<path class="o" style="stroke:#444;stroke-width:1.3" fill="url(#cyl)" d="M645.5,1006.5 L645.5,1042 C647,1048 657,1052 668,1052 C679,1052 688.5,1048 689.7,1042 L689.7,1006.5 Z"/>
<ellipse class="o" style="stroke:#444;stroke-width:1.3" cx="667.6" cy="1006.5" rx="22.1" ry="10.5" fill="#d2d2d2"/>
<ellipse class="o f" style="stroke:#555" cx="667.6" cy="1006" rx="18.6" ry="8.3"/>
<path class="o" style="stroke:#444;stroke-width:1.3" fill="#cfcfcf" d="M660.5,997 L660.5,1003 C662,1006 672.5,1006 674,1003 L674,997 Z"/>
<ellipse class="o" style="stroke:#444;stroke-width:1.3" cx="667.2" cy="997" rx="6.8" ry="3.2" fill="#bdbdbd"/>
<ellipse class="o" style="stroke:#444;stroke-width:1.3" cx="667.2" cy="997" rx="3.4" ry="1.6" fill="#8c8c8c"/>
</g>
<g>
<path class="o" style="stroke:#444;stroke-width:1.3" fill="url(#cyl)" d="M680,1027.5 L680,1064 C681.5,1070 692,1074.5 703.2,1074.5 C714.5,1074.5 725,1070 726.5,1064 L726.5,1027.5 Z"/>
<ellipse class="o" style="stroke:#444;stroke-width:1.3" cx="703.2" cy="1027.5" rx="23.2" ry="11" fill="#d2d2d2"/>
<ellipse class="o f" style="stroke:#555" cx="703.2" cy="1027" rx="19.6" ry="8.8"/>
<path class="o" style="stroke:#444;stroke-width:1.3" fill="#cfcfcf" d="M696.5,1017.5 L696.5,1024 C698,1027 708.5,1027 710,1024 L710,1017.5 Z"/>
<ellipse class="o" style="stroke:#444;stroke-width:1.3" cx="703.2" cy="1017.5" rx="6.8" ry="3.2" fill="#bdbdbd"/>
<ellipse class="o" style="stroke:#444;stroke-width:1.3" cx="703.2" cy="1017.5" rx="3.4" ry="1.6" fill="#8c8c8c"/>
</g>
<!-- hose 4 ends -->
<path d="M759.8,967.5 L759.8,977 C760,982 763,984 768,985" stroke="#333" stroke-width="11.2" fill="none" stroke-linecap="butt"/>
<path d="M759.8,968.5 L759.8,977 C760,982 763,984 768,985" stroke="#d2d2d2" stroke-width="7.8" fill="none" stroke-linecap="butt"/>
<path d="M765,983.2 L775.5,987.5" stroke="#333" stroke-width="12" fill="none"/>
<path d="M766,983.6 L774.5,987.1" stroke="#cdcdcd" stroke-width="8.6" fill="none"/>
<ellipse class="od" cx="759.8" cy="967.3" rx="4.6" ry="1.8" fill="#8a8a8a"/>
<path d="M852,1044.5 L860,1047.5 C864,1049 867,1048 871,1046" stroke="#333" stroke-width="11" fill="none"/>
<path d="M853,1044.9 L860,1047.5 C864,1049 867,1048 871,1046" stroke="#d2d2d2" stroke-width="7.6" fill="none"/>
<path d="M870,1046.5 L878.5,1042" stroke="#333" stroke-width="11.6" fill="none"/>
<path d="M871,1046 L877.5,1042.5" stroke="#cdcdcd" stroke-width="8.4" fill="none"/>
</g>

<!-- 70_small.svg -->
<g>
<!-- T connector -->
<path d="M336.9,482 V500" stroke="#333" stroke-width="13.6"/>
<path d="M336.9,482 V503" stroke="#d4d4d4" stroke-width="10.8"/>
<path d="M334,484 V500" stroke="#ededed" stroke-width="3"/>
<ellipse class="od" cx="336.9" cy="482.3" rx="6.2" ry="2.8" fill="#7d7d7d"/>
<ellipse class="n" cx="337.5" cy="483" rx="3.6" ry="1.5" fill="#b5b5b5"/>
<path d="M313,498.7 L361,507.3" stroke="#333" stroke-width="11.6"/>
<path d="M314,498.9 L360,507.1" stroke="#d4d4d4" stroke-width="9"/>
<path d="M314,497.2 L360,505.4" stroke="#eeeeee" stroke-width="2.6"/>
<path d="M326.5,495.5 L324.5,507 M345.5,499 L343.5,510.5" stroke="#555" stroke-width="1.1"/>
<path d="M336.9,495 V501" stroke="#d4d4d4" stroke-width="10.8"/>
<ellipse class="od" cx="360.8" cy="507.3" rx="2.2" ry="5.6" fill="#a5a5a5" transform="rotate(10 360.8 507.3)"/>
<!-- clip 15 upper -->
<path d="M396.25,510.8 L397.1,506.25 L405.8,500 L408.3,502.1 L411.25,499.6 L421.7,505.4 L423.75,509.6 L407.9,519.6 L404.6,517.5 L404.2,514.6 L399.2,514.6 Z" fill="#8f8f8f" stroke="#2e2e2e" stroke-width="1.9" stroke-linejoin="round"/>
<path class="n" fill="#bdbdbd" d="M399,507.5 L405.5,503 L407.5,505 L400.5,510 Z M412,502.5 L419.5,506.5 L418,508.5 L410.5,504.5 Z M409.5,512.5 L417,508.5 L418.5,510.5 L410.5,515 Z"/>
<path class="n" fill="#d4d4d4" d="M406.5,508 L409.5,505 L410.5,511.5 L407.5,513.5 Z"/>
<path class="n" fill="#c9c9c9" d="M406,516 L409,517.3 L408,518.4 L405.5,517 Z"/>
<!-- clip 15 lower -->
<path d="M527.5,807.5 L530.4,805.4 L529.2,802.1 L532.9,802.5 L533.75,799.6 L543.75,805 L544.6,807.5 L545,822.9 L542.1,825 L528.75,818.3 L527.5,815 Z" fill="#585858" stroke="#2c2c2c" stroke-width="1.9" stroke-linejoin="round"/>
<path class="n" fill="#9a9a9a" d="M534.5,802.5 L542.5,806.8 L542.5,809.5 L534.5,805.5 Z"/>
<path class="n" fill="#c4c4c4" d="M530.5,810 L532.5,808 L533,816 L531,815 Z M535.5,810 L540,812 L540,813.2 L535.5,811.2 Z M538.5,814 L540.5,815 L541,822 L539,821 Z M534,816 L536,817 L536,818.5 L534,817.5 Z"/>
<ellipse class="n" cx="541.8" cy="821.8" rx="1.2" ry="1.4" fill="#e6e6e6"/>
<!-- clip 11 -->
<path class="od" fill="#5a5a5a" d="M520.5,204 L528.1,199.3 L535.7,202.8 L539.8,207.5 L539.8,211 L533.3,216.8 L520.5,210.4 Z" stroke-width="1.4"/>
<path class="n" fill="#a9a9a9" d="M524,203.5 L528.5,201 L534.5,204 L530.5,207 Z"/>
<path class="n" fill="#d5d5d5" d="M534.5,210.5 L538.5,212.3 L537.5,214.2 L533.5,212.5 Z M525.5,209 L528,210.2 L527,211.8 L524.5,210.6 Z"/>
<ellipse cx="547.6" cy="214" rx="5.6" ry="4.6" fill="#f4f4f4" stroke="#333" stroke-width="1.7" transform="rotate(25 547.6 214)"/>
<ellipse cx="545" cy="220.3" rx="5.2" ry="4.4" fill="#f4f4f4" stroke="#333" stroke-width="1.7" transform="rotate(25 545 220.3)"/>
<path class="od" fill="#6a6a6a" d="M548,222 L553.5,220.3 L555,224 L549.5,227 Z" stroke-width="1.3"/>
<path class="od" fill="#444" d="M553,214.5 L556,215.5 L555.5,217.5 L552.5,216.5 Z" stroke-width="1"/>
<path d="M556,223.8 L565,229" stroke="#666" stroke-width="1.2"/>
<!-- connector 21 -->
<path class="od" fill="#4c4c4c" d="M617,350 L638,338 L639,335.5 L642,334 L647,334 L651.5,336.5 L652.5,339.5 L654,340.5 L659,347 L659.5,354 L648,361 L637,367.5 L617.5,356 Z"/>
<path class="n" fill="#9c9c9c" d="M618.5,350.3 L638.5,339 L645,340 L658,347 L637.5,358.5 Z"/>
<path class="n" fill="#c9c9c9" d="M628,349 L640,341.5 L643.5,342.5 L631,352 Z M622,350 L626,347.5 L628,348.5 L624,351 Z M634,353 L645,347 L649,349 L641,355 Z"/>
<path class="n" fill="#6a6a6a" d="M631,352 L643.5,342.5 L646,343.5 L634,353 Z"/>
<path class="od" fill="#8e8e8e" d="M638,338 L642,334 L647,334 L651.5,336.5 L652.5,339.5 L650,349 L647,349 L648.5,341 L645.5,338.5 L640,338 Z"/>
<path class="n" fill="#555" d="M639,359 L648,353.5 L648,361 L639,366 Z"/>
<path class="n" fill="#8a8a8a" d="M641.5,360 L643.5,358.8 L643.5,363 L641.5,364 Z M645.5,357.8 L647.5,356.6 L647.5,360.6 L645.5,361.6 Z M651,354.5 L657.5,350.8 L657.5,353.5 L651,357 Z"/>
<path class="n" fill="#777" d="M632,356.5 L636,358.5 L636,360 L632,358 Z"/>
<!-- connector 22 -->
<path class="od" fill="#434343" d="M683.5,391.5 L690,387.5 L700,382.5 L701.5,380 L704.5,378.5 L710,379 L714,382.5 L715,386 L717.5,388 L718.5,396 L707,403 L696,409.5 L685,403 L684.5,394 Z"/>
<path class="n" fill="#5f5f5f" d="M686,391.5 L700.5,383.5 L706,384 L716.5,388.5 L698.5,398.5 Z"/>
<path class="n" fill="#8c8c8c" d="M693,391.5 L704,385 L706,386 L695.5,393 Z M698,394 L708,388 L709.5,389 L700,395.5 Z M687,392 L691.5,389.5 L692.5,390.3 L688.5,393 Z"/>
<path class="od" fill="#6e6e6e" d="M700,382.5 L701.5,380 L704.5,378.5 L710,379 L714,382.5 L715,386 L712.5,392 L710.5,391 L711.5,385.5 L708.5,383 L702.5,383 Z"/>
<path class="n" fill="#9a9a9a" d="M690,396.5 L694,398.5 L693,400 L689,398 Z M708.5,398 L716.5,393.5 L716.5,395 L708.5,399.5 Z M713,390 L714.5,389.2 L714.5,392.5 L713,393.3 Z"/>
<!-- connector 23 -->
<path class="od" fill="#4b4b4b" d="M883,248.5 L885,247 L890,247 L895,242.5 L896,239.5 L902,239.5 L903,236.5 L909,235.5 L912,237.5 L912.5,240.5 L919.5,247.5 L920,253 L915,257.5 L907,260.5 L901,258.5 L894,256 L892,254 L888,255.5 L886,253.5 L883.5,251 Z"/>
<path class="n" fill="#666" d="M896,241 L903,238 L909,237 L917.5,247.5 L910,252 Z"/>
<path d="M896.5,243.5 L912,253" stroke="#9a9a9a" stroke-width="1"/>
<path class="n" fill="#d0d0d0" d="M906.5,257 L909.5,256 L910,258 L907,259 Z"/>
<path class="n" fill="#8a8a8a" d="M912.5,254 L914.5,253 L915,255.3 L913,256.3 Z"/>
<!-- hose 8 cap & band -->
<path d="M437.6,582.4 L440.6,578.8" stroke="#333" stroke-width="12" stroke-linecap="round"/>
<path d="M437.6,582.4 L440.6,578.8" stroke="#6e6e6e" stroke-width="9" stroke-linecap="round"/>
<path d="M429.6,596 L429.8,602" stroke="#333" stroke-width="9.4"/>
<path d="M429.6,596.5 L429.8,601.5" stroke="#777" stroke-width="7"/>
<!-- screw 18 -->
<path d="M713.7,649 V666" stroke="#333" stroke-width="7.2" stroke-linecap="round"/>
<path d="M713.7,649.5 V666" stroke="#a5a5a5" stroke-width="4.6" stroke-dasharray="1.5 1.3"/>
<path d="M712.6,649 V666" stroke="#d5d5d5" stroke-width="1.2"/>
<ellipse class="od" cx="713.7" cy="670.6" rx="9.6" ry="5.6" fill="#8d8d8d"/>
<ellipse class="od" cx="713.7" cy="669.2" rx="9.2" ry="4.8" fill="#b9b9b9"/>
<path class="od" fill="#9a9a9a" d="M707.5,667.5 L709.5,664.5 L718,664.5 L720,667.5 L718,670.5 L709.5,670.5 Z"/>
<path class="n" fill="#e2e2e2" d="M707,674 C711,676.5 717,676.5 721,674 C717,675.2 711,675.2 707,674 Z"/>
<!-- screw 12 -->
<path d="M754.7,708 V722.3" stroke="#333" stroke-width="6.6" stroke-linecap="round"/>
<path d="M754.7,708 V722.3" stroke="#8d8d8d" stroke-width="4" stroke-dasharray="1.5 1.3"/>
<path class="od" fill="#6a6a6a" d="M748.2,704 C748.2,700.5 751,699.3 754.3,699.3 C757.8,699.3 760.6,700.5 760.6,704 L760.6,707.5 C759,710 750,710 748.2,707.5 Z"/>
<ellipse class="od" cx="754.4" cy="703.2" rx="4.4" ry="2.2" fill="#a2a2a2"/>
<path class="n" fill="#555" d="M752.5,702.5 h4 v1.4 h-4z"/>
<!-- screw 17 -->
<path d="M784,782 L796,788" stroke="#333" stroke-width="6" stroke-linecap="round"/>
<path d="M784.5,782.2 L796,788" stroke="#8f8f8f" stroke-width="3.4" stroke-dasharray="1.5 1.3"/>
<ellipse class="od" cx="797.5" cy="787.5" rx="3" ry="6.2" fill="#6b6b6b" transform="rotate(-22 797.5 787.5)"/>
<path d="M799,789.5 L806,793" stroke="#333" stroke-width="3.8"/>
<ellipse class="od" cx="807.3" cy="793.5" rx="3.2" ry="5.4" fill="#787878" transform="rotate(-22 807.3 793.5)"/>
<!-- screw 16 -->
<path d="M730.5,825 L745,816" stroke="#333" stroke-width="6.2" stroke-linecap="round"/>
<path d="M731,824.7 L745,816" stroke="#909090" stroke-width="3.6" stroke-dasharray="1.5 1.3"/>
<ellipse class="od" cx="750.8" cy="814" rx="5.4" ry="8.2" fill="#727272" transform="rotate(25 750.8 814)"/>
<ellipse class="od" cx="748.8" cy="813.5" rx="4" ry="6" fill="#9a9a9a" transform="rotate(25 748.8 813.5)"/>
<path class="od" fill="#7d7d7d" d="M746,809 L749.5,808.5 L752,811.5 L751.5,816.5 L748,818.5 L745.5,815 Z"/>
<ellipse class="n" cx="747.9" cy="813.4" rx="1.6" ry="2.2" fill="#c9c9c9" transform="rotate(25 747.9 813.4)"/>
</g>

<!-- 80_wdash.svg -->
<g>
<path class="dw" d="M453,493.6 L453.3,510.5 L583,582" style="stroke-width:1.5"/>
<path class="dw" d="M458,735 L503,708.5" style="stroke-width:1.5"/>
<path class="dw" d="M437,499 L447,493" />
<path d="M640,661.5 L664,675.5" class="dw" style="stroke:#cfcfcf;stroke-width:1.4"/>
<path d="M671.5,884 V904" class="dw" style="stroke:#d5d5d5"/>
</g>

<!-- 90_labels.svg -->
<g>
<g class="lb">
<rect x="627" y="41" width="29" height="27"/>
<rect x="476" y="194" width="30" height="27"/>
<rect x="759" y="172" width="30" height="27"/>
<rect x="736" y="206" width="84" height="24"/>
<rect x="899" y="193" width="30" height="27"/>
<rect x="621" y="296" width="29" height="27"/>
<rect x="694" y="417" width="30" height="27"/>
<rect x="468" y="291" width="21" height="27"/>
<rect x="394" y="452" width="30" height="27"/>
<rect x="298" y="641" width="21" height="27"/>
<rect x="398" y="656" width="21" height="27"/>
<rect x="541" y="684" width="30" height="27"/>
<rect x="733" y="650" width="32" height="27"/>
<rect x="767" y="698" width="32" height="27"/>
<rect x="783" y="743" width="31" height="27"/>
<rect x="735" y="826" width="31" height="27"/>
<rect x="490" y="796" width="30" height="27"/>
<rect x="527" y="836" width="21" height="27"/>
<rect x="541" y="900" width="21" height="27"/>
<rect x="594" y="977" width="20" height="27"/>
<rect x="615" y="1022" width="21" height="27"/>
<rect x="738" y="1019" width="21" height="27"/>
<rect x="851" y="938" width="22" height="27"/>
</g>
<rect x="625" y="857.5" width="19.7" height="26.5" fill="#f4d878" stroke="#e9c95e" stroke-width=".8"/>
<g class="ld">
<path d="M642.5,67 V84"/>
<path d="M500,207.5 H521"/>
<path d="M730,211 V291"/>
<path d="M715,217 L723.75,206.25 H765 L773.75,197 L782.5,206.25 H825 L833,217"/>
<path d="M913.25,218 V234.5"/>
<path d="M633.7,321 V336"/>
<path d="M708,402.5 V418"/>
<path d="M478.25,315.5 V332.5"/>
<path d="M409.25,476 V497.5"/>
<path d="M307.1,664 V682.4"/>
<path d="M408.3,642.2 V658.8"/>
<path d="M568.2,698 H581.2"/>
<path d="M728.2,664.5 H738.2"/>
<path d="M762.3,712 H772.3"/>
<path d="M798.4,767.5 V778.6"/>
<path d="M750.6,821.8 V830.8"/>
<path d="M514.7,809.3 H528"/>
<path d="M543.7,850 H552.5"/>
<path d="M558.3,915 H569"/>
<path d="M634,884 V895"/>
<path d="M612.5,991 H625.2"/>
<path d="M632.7,1036.2 H644.7"/>
<path d="M729.5,1033 H741.5"/>
<path d="M863,962.2 V981.7"/>
</g>
<path d="M763 0 L583 0 L583 1147 Q518 1085 412.5 1023 Q307 961 223 930 L223 1104 Q374 1175 487 1276 Q600 1377 647 1472 L763 1472 Z" transform="translate(631.73 62.10) scale(0.00894 -0.00894)" fill="#151515" stroke="#151515" stroke-width="81"/>
<text x="641.90" y="62.10" style="font-size:18.30px;fill:#151515;stroke:#151515">0</text>
<path d="M763 0 L583 0 L583 1147 Q518 1085 412.5 1023 Q307 961 223 930 L223 1104 Q374 1175 487 1276 Q600 1377 647 1472 L763 1472 Z" transform="translate(480.33 213.60) scale(0.00894 -0.00894)" fill="#151515" stroke="#151515" stroke-width="81"/>
<path d="M763 0 L583 0 L583 1147 Q518 1085 412.5 1023 Q307 961 223 930 L223 1104 Q374 1175 487 1276 Q600 1377 647 1472 L763 1472 Z" transform="translate(490.50 213.60) scale(0.00894 -0.00894)" fill="#151515" stroke="#151515" stroke-width="81"/>
<text x="763.58" y="192.10" style="font-size:18.30px;fill:#151515;stroke:#151515">2</text>
<text x="773.75" y="192.10" style="font-size:18.30px;fill:#151515;stroke:#151515">0</text>
<text x="903.58" y="213.10" style="font-size:18.30px;fill:#151515;stroke:#151515">2</text>
<text x="913.75" y="213.10" style="font-size:18.30px;fill:#151515;stroke:#151515">3</text>
<text x="624.53" y="316.60" style="font-size:18.30px;fill:#151515;stroke:#151515">2</text>
<path d="M763 0 L583 0 L583 1147 Q518 1085 412.5 1023 Q307 961 223 930 L223 1104 Q374 1175 487 1276 Q600 1377 647 1472 L763 1472 Z" transform="translate(634.70 316.60) scale(0.00894 -0.00894)" fill="#151515" stroke="#151515" stroke-width="81"/>
<text x="698.13" y="437.10" style="font-size:18.30px;fill:#151515;stroke:#151515">2</text>
<text x="708.30" y="437.10" style="font-size:18.30px;fill:#151515;stroke:#151515">2</text>
<text x="473.66" y="311.60" style="font-size:18.30px;fill:#151515;stroke:#151515">9</text>
<path d="M763 0 L583 0 L583 1147 Q518 1085 412.5 1023 Q307 961 223 930 L223 1104 Q374 1175 487 1276 Q600 1377 647 1472 L763 1472 Z" transform="translate(399.08 472.40) scale(0.00894 -0.00894)" fill="#151515" stroke="#151515" stroke-width="81"/>
<text x="409.25" y="472.40" style="font-size:18.30px;fill:#151515;stroke:#151515">5</text>
<text x="303.41" y="661.40" style="font-size:18.30px;fill:#151515;stroke:#151515">3</text>
<text x="404.11" y="675.40" style="font-size:18.30px;fill:#151515;stroke:#151515">8</text>
<path d="M763 0 L583 0 L583 1147 Q518 1085 412.5 1023 Q307 961 223 930 L223 1104 Q374 1175 487 1276 Q600 1377 647 1472 L763 1472 Z" transform="translate(546.03 704.10) scale(0.00894 -0.00894)" fill="#151515" stroke="#151515" stroke-width="81"/>
<text x="556.20" y="704.10" style="font-size:18.30px;fill:#151515;stroke:#151515">3</text>
<path d="M763 0 L583 0 L583 1147 Q518 1085 412.5 1023 Q307 961 223 930 L223 1104 Q374 1175 487 1276 Q600 1377 647 1472 L763 1472 Z" transform="translate(739.03 670.10) scale(0.00894 -0.00894)" fill="#151515" stroke="#151515" stroke-width="81"/>
<text x="749.20" y="670.10" style="font-size:18.30px;fill:#151515;stroke:#151515">8</text>
<path d="M763 0 L583 0 L583 1147 Q518 1085 412.5 1023 Q307 961 223 930 L223 1104 Q374 1175 487 1276 Q600 1377 647 1472 L763 1472 Z" transform="translate(773.23 718.10) scale(0.00894 -0.00894)" fill="#151515" stroke="#151515" stroke-width="81"/>
<text x="783.40" y="718.10" style="font-size:18.30px;fill:#151515;stroke:#151515">2</text>
<path d="M763 0 L583 0 L583 1147 Q518 1085 412.5 1023 Q307 961 223 930 L223 1104 Q374 1175 487 1276 Q600 1377 647 1472 L763 1472 Z" transform="translate(788.23 763.60) scale(0.00894 -0.00894)" fill="#151515" stroke="#151515" stroke-width="81"/>
<text x="798.40" y="763.60" style="font-size:18.30px;fill:#151515;stroke:#151515">7</text>
<path d="M763 0 L583 0 L583 1147 Q518 1085 412.5 1023 Q307 961 223 930 L223 1104 Q374 1175 487 1276 Q600 1377 647 1472 L763 1472 Z" transform="translate(740.03 845.90) scale(0.00894 -0.00894)" fill="#151515" stroke="#151515" stroke-width="81"/>
<text x="750.20" y="845.90" style="font-size:18.30px;fill:#151515;stroke:#151515">6</text>
<path d="M763 0 L583 0 L583 1147 Q518 1085 412.5 1023 Q307 961 223 930 L223 1104 Q374 1175 487 1276 Q600 1377 647 1472 L763 1472 Z" transform="translate(495.13 816.00) scale(0.00894 -0.00894)" fill="#151515" stroke="#151515" stroke-width="81"/>
<text x="505.30" y="816.00" style="font-size:18.30px;fill:#151515;stroke:#151515">5</text>
<text x="531.91" y="855.80" style="font-size:18.30px;fill:#151515;stroke:#151515">7</text>
<text x="546.61" y="920.10" style="font-size:18.30px;fill:#151515;stroke:#151515">5</text>
<text x="598.61" y="996.90" style="font-size:18.30px;fill:#151515;stroke:#151515">6</text>
<text x="620.11" y="1041.80" style="font-size:18.30px;fill:#151515;stroke:#151515">2</text>
<text x="743.11" y="1038.80" style="font-size:18.30px;fill:#151515;stroke:#151515">2</text>
<text x="856.71" y="958.60" style="font-size:18.30px;fill:#151515;stroke:#151515">4</text>
<text x="737.30" y="225.00" style="font-size:18.10px;fill:#151515;stroke:#151515">2</text>
<path d="M763 0 L583 0 L583 1147 Q518 1085 412.5 1023 Q307 961 223 930 L223 1104 Q374 1175 487 1276 Q600 1377 647 1472 L763 1472 Z" transform="translate(747.36 225.00) scale(0.00884 -0.00884)" fill="#151515" stroke="#151515" stroke-width="81"/>
<text x="757.43" y="225.00" style="font-size:18.10px;fill:#151515;stroke:#151515">,</text>
<text x="765.86" y="225.00" style="font-size:18.10px;fill:#151515;stroke:#151515">2</text>
<text x="775.92" y="225.00" style="font-size:18.10px;fill:#151515;stroke:#151515">2</text>
<text x="791.02" y="225.00" style="font-size:18.10px;fill:#151515;stroke:#151515">,</text>
<text x="796.05" y="225.00" style="font-size:18.10px;fill:#151515;stroke:#151515">2</text>
<text x="806.11" y="225.00" style="font-size:18.10px;fill:#151515;stroke:#151515">3</text>
<path d="M763 0 L583 0 L583 1147 Q518 1085 412.5 1023 Q307 961 223 930 L223 1104 Q374 1175 487 1276 Q600 1377 647 1472 L763 1472 Z" transform="translate(629.61 878.20) scale(0.00894 -0.00894)" fill="#2a2a2a" stroke="#2a2a2a" stroke-width="81"/>
</g>
</g>
</svg>
</body></html>
